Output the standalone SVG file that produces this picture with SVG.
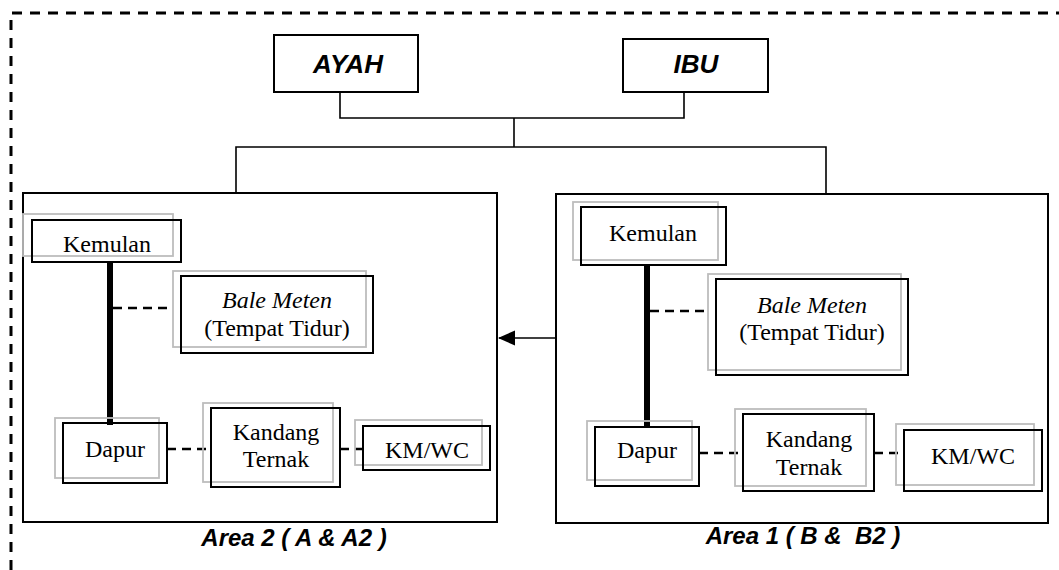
<svg xmlns="http://www.w3.org/2000/svg" width="1059" height="570" viewBox="0 0 1059 570">
<style>
.frame{fill:none;stroke:#000;stroke-width:3;stroke-dasharray:10 8}
.area{fill:none;stroke:#000;stroke-width:2}
.shadow{fill:none;stroke:#bdbdbd;stroke-width:1.8}
.nb{fill:none;stroke:#000;stroke-width:2}
.ln{fill:none;stroke:#000;stroke-width:1.6}
.thick{fill:none;stroke:#000;stroke-width:6}
.dash{fill:none;stroke:#000;stroke-width:2.4;stroke-dasharray:9 6}
.hd{font-family:"Liberation Sans",Arial,sans-serif;font-weight:bold;font-style:italic;font-size:26px;text-anchor:middle;fill:#000}
.lbl{font-family:"Liberation Sans",Arial,sans-serif;font-weight:bold;font-style:italic;font-size:24px;text-anchor:middle;fill:#000;white-space:pre}
.t{font-family:"Liberation Serif","Times New Roman",serif;font-size:24px;text-anchor:middle;fill:#000}
.ti{font-style:italic}
</style>
<defs>
<marker id="ah" markerWidth="17" markerHeight="17" refX="16" refY="8.5" orient="auto" markerUnits="userSpaceOnUse">
<path d="M0,1 L17,8.5 L0,16 Z" fill="#000"/>
</marker>
</defs>
<path class="frame" d="M11,570 V13 H1059"/>
<g id="connectors">
<path class="ln" d="M340,92 V118 H684 V92"/>
<path class="ln" d="M514,118 V147"/>
<path class="ln" d="M236,193 V147 H826 V194"/>
<path class="ln" d="M556,338 H499" marker-end="url(#ah)"/>
<path class="thick" d="M110,262 V425"/>
<path class="dash" d="M113,308 H173"/>
<path class="dash" d="M167,449 H211"/>
<path class="dash" d="M340,449 H369"/>
<path class="thick" d="M647,265 V428"/>
<path class="dash" d="M650,311 H708"/>
<path class="dash" d="M699,453 H743"/>
<path class="dash" d="M874,453 H904"/>
</g>
<g id="ayah"><rect class="nb" x="274" y="35" width="144" height="57"/><text class="hd" x="348" y="73">AYAH</text></g>
<g id="ibu"><rect class="nb" x="623" y="39" width="145" height="53"/><text class="hd" x="696" y="73">IBU</text></g>
<g id="area2">
<rect class="area" x="23" y="193" width="474" height="329"/>
<text class="lbl" x="294" y="546">Area 2 ( A &amp; A2 )</text>
</g>
<g id="area1">
<rect class="area" x="556" y="194" width="492" height="329"/>
<text class="lbl" x="803" y="544">Area 1 ( B &amp;  B2 )</text>
</g>
<g id="kemulan2"><rect class="shadow" x="23" y="214" width="150" height="42"/><rect class="nb" x="32" y="220" width="149" height="42"/><text class="t" x="107" y="252">Kemulan</text></g>
<g id="bale2"><rect class="shadow" x="173" y="271" width="193" height="76"/><rect class="nb" x="181" y="276" width="192" height="77"/><text class="t ti" x="277" y="308">Bale Meten</text><text class="t" x="277" y="336">(Tempat Tidur)</text></g>
<g id="dapur2"><rect class="shadow" x="55" y="418" width="104" height="60"/><rect class="nb" x="63" y="423" width="104" height="60"/><text class="t" x="115" y="457">Dapur</text></g>
<g id="kandang2"><rect class="shadow" x="203" y="403" width="130" height="79"/><rect class="nb" x="211" y="408" width="129" height="79"/><text class="t" x="276" y="440">Kandang</text><text class="t" x="276" y="467">Ternak</text></g>
<g id="kmwc2"><rect class="shadow" x="355" y="420" width="127" height="45"/><rect class="nb" x="363" y="426" width="127" height="44"/><text class="t" x="427" y="458">KM/WC</text></g>
<g id="kemulan1"><rect class="shadow" x="573" y="202" width="145" height="58"/><rect class="nb" x="581" y="207" width="145" height="58"/><text class="t" x="653" y="241">Kemulan</text></g>
<g id="bale1"><rect class="shadow" x="708" y="274" width="193" height="96"/><rect class="nb" x="716" y="279" width="192" height="96"/><text class="t ti" x="812" y="313">Bale Meten</text><text class="t" x="812" y="340">(Tempat Tidur)</text></g>
<g id="dapur1"><rect class="shadow" x="587" y="421" width="105" height="59"/><rect class="nb" x="595" y="427" width="104" height="59"/><text class="t" x="647" y="458">Dapur</text></g>
<g id="kandang1"><rect class="shadow" x="735" y="409" width="131" height="77"/><rect class="nb" x="743" y="414" width="131" height="77"/><text class="t" x="809" y="447">Kandang</text><text class="t" x="809" y="475">Ternak</text></g>
<g id="kmwc1"><rect class="shadow" x="896" y="424" width="138" height="61"/><rect class="nb" x="904" y="430" width="138" height="61"/><text class="t" x="973" y="464">KM/WC</text></g>
</svg>
